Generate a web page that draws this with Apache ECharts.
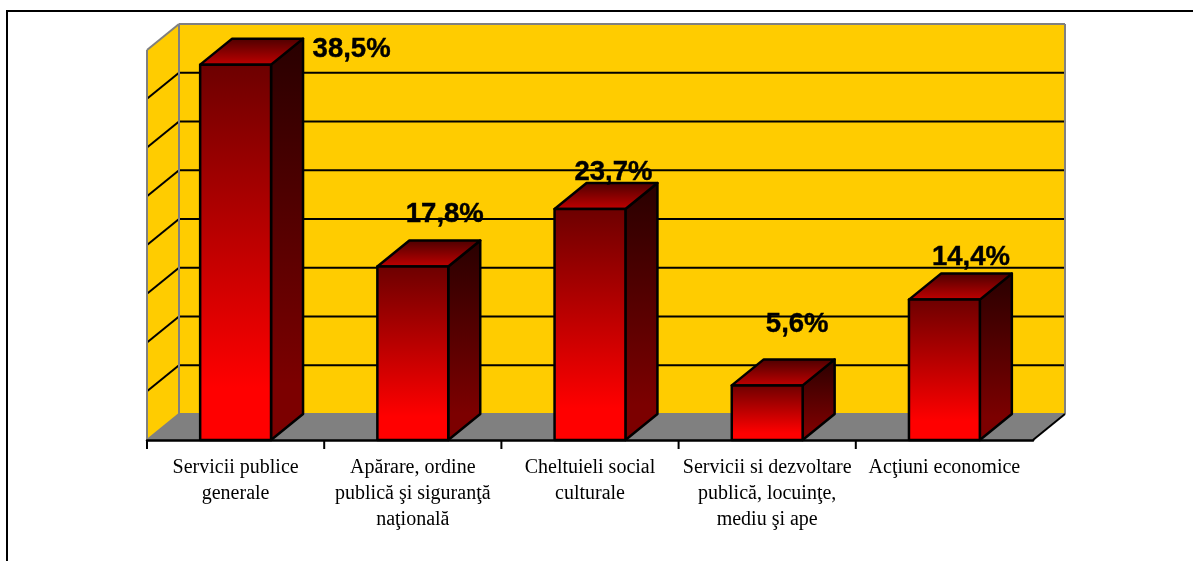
<!DOCTYPE html>
<html>
<head>
<meta charset="utf-8">
<style>html,body{margin:0;padding:0;background:#fff}#c{width:1193px;height:561px}</style>
<script src="https://cdn.jsdelivr.net/npm/echarts@6/dist/echarts.min.js"></script>
</head>
<body>
<div id="c"></div>
<script>
const categories = [
  'Servicii publice\ngenerale',
  'Apărare, ordine\npublică şi siguranţă\nnaţională',
  'Cheltuieli social\nculturale',
  'Servicii si dezvoltare\npublică, locuinţe,\nmediu şi ape',
  'Acţiuni economice'
];
const values = [38.5, 17.8, 23.7, 5.6, 14.4];
const valueLabels = ['38,5%', '17,8%', '23,7%', '5,6%', '14,4%'];
const gridValues = [5, 10, 15, 20, 25, 30, 35];

// label nudges relative to the bar's front-top centre, in pixels
const labelNudgeX = [116, 32, 23.5, 30, 26.5];
const labelNudgeY = [-15, -52, -37, -61, -42];

const DX = 32, DY = -26;
const vgrad = (stops) => ({type:'linear', x:0, y:0, x2:0, y2:1, colorStops: stops.map(s => ({offset:s[0], color:s[1]}))});
const poly = (points, fill, stroke, lw) => ({type:'polygon', shape:{points}, style:{fill, stroke, lineWidth:lw, lineJoin:'round'}});
const line = (a, b, stroke, lw) => ({type:'line', shape:{x1:a[0], y1:a[1], x2:b[0], y2:b[1]}, style:{stroke, lineWidth:lw}});

function renderWalls(params, api) {
  const left = api.coord([0, 0])[0] - api.size([1, 0])[0] / 2;
  const band = api.size([1, 0])[0];
  const right = left + band * categories.length;
  const y0 = api.coord([0, 0])[1];
  const yT = api.coord([0, 40])[1];
  const ch = [];
  // left wall, back wall, floor
  ch.push(poly([[left,y0],[left,yT],[left+DX,yT+DY],[left+DX,y0+DY]], '#FFCC00', null, 0));
  ch.push(poly([[left+DX,y0+DY],[left+DX,yT+DY],[right+DX,yT+DY],[right+DX,y0+DY]], '#FFCC00', null, 0));
  ch.push(poly([[left,y0],[left+DX,y0+DY],[right+DX,y0+DY],[right,y0]], '#808080', null, 0));
  // gridlines
  gridValues.forEach(v => {
    const y = api.coord([0, v])[1];
    ch.push(line([left, y], [left+DX, y+DY], '#000', 2));
    ch.push(line([left+DX, y+DY], [right+DX, y+DY], '#000', 2));
  });
  // wall borders
  const G = '#808080';
  ch.push(line([left,y0],[left,yT],G,2));
  ch.push(line([left,yT],[left+DX,yT+DY],G,2));
  ch.push(line([left+DX,yT+DY],[right+DX,yT+DY],G,2));
  ch.push(line([right+DX,yT+DY],[right+DX,y0+DY],G,2));
  ch.push(line([left+DX,yT+DY],[left+DX,y0+DY],G,2));
  ch.push(line([left,y0],[left+DX,y0+DY],G,2));
  ch.push(line([left+DX,y0+DY],[right+DX,y0+DY],G,2));
  ch.push(line([right,y0],[right+DX,y0+DY],'#000',2));
  // category boundary ticks (no tick at the far right)
  for (let i = 0; i < categories.length; i++) {
    const x = left + band * i;
    ch.push(line([x,y0],[x,y0+9],'#000',2));
  }
  return {type:'group', children:ch};
}

function renderBar(params, api) {
  const i = api.value(0), v = api.value(1);
  const top = api.coord([i, v]), base = api.coord([i, 0]);
  const w = api.size([1, 0])[0] * 0.4;
  const xl = top[0] - w/2, xr = top[0] + w/2, yt = top[1], yb = base[1];
  const ch = [];
  ch.push(poly([[xr,yt],[xr,yb],[xr+DX,yb+DY],[xr+DX,yt+DY]],
    vgrad([[0,'#280000'],[0.86,'#7c0000'],[1,'#7c0000']]), '#000', 2.5));
  ch.push(poly([[xl,yt],[xr,yt],[xr+DX,yt+DY],[xl+DX,yt+DY]],
    vgrad([[0,'#4a0000'],[1,'#c40000']]), '#000', 2.5));
  ch.push(poly([[xl,yt],[xr,yt],[xr,yb],[xl,yb]],
    vgrad([[0,'#6c0000'],[0.86,'#ff0000'],[1,'#ff0000']]), '#000', 2.5));
  return {type:'group', children:ch};
}

function renderLabel(params, api) {
  const i = api.value(0), v = api.value(1);
  const top = api.coord([i, v]);
  return {type:'text', style:{
    text: valueLabels[i], x: top[0] + labelNudgeX[i], y: top[1] + labelNudgeY[i],
    align:'center', verticalAlign:'middle', fill:'#000', stroke:'#000', lineWidth:0.4,
    fontFamily:'"Liberation Sans", Arial, sans-serif', fontWeight:'bold', fontSize:27.5
  }};
}

const chart = echarts.init(document.getElementById('c'), null, {renderer:'canvas'});
chart.setOption({
  animation:false,
  backgroundColor:'#fff',
  grid:{left:147, top:50, width:886, height:390, containLabel:false},
  xAxis:{
    type:'category', data:categories, z:6,
    axisLine:{show:true, lineStyle:{color:'#000', width:2.5}},
    axisTick:{show:false},
    axisLabel:{interval:0, margin:15, color:'#000', fontFamily:'"Liberation Serif", "Times New Roman", serif', fontSize:20, lineHeight:26, align:'center', verticalAlign:'top', hideOverlap:false},
    splitLine:{show:false}
  },
  yAxis:{type:'value', min:0, max:40, interval:5, show:false, splitLine:{show:false}},
  graphic:[
    {type:'line', shape:{x1:7,y1:11,x2:1193,y2:11}, style:{stroke:'#000', lineWidth:2}},
    {type:'line', shape:{x1:7,y1:10,x2:7,y2:561}, style:{stroke:'#000', lineWidth:2}}
  ],
  series:[
    {type:'custom', z:1, clip:false, silent:true, renderItem:renderWalls, data:[[0,0]], encode:{x:0,y:1}},
    {type:'custom', z:2, clip:false, silent:true, renderItem:renderBar, data:values.map((v,i)=>[i,v]), encode:{x:0,y:1}},
    {type:'custom', z:7, clip:false, silent:true, renderItem:renderLabel, data:values.map((v,i)=>[i,v]), encode:{x:0,y:1}}
  ]
});
</script>
</body>
</html>
